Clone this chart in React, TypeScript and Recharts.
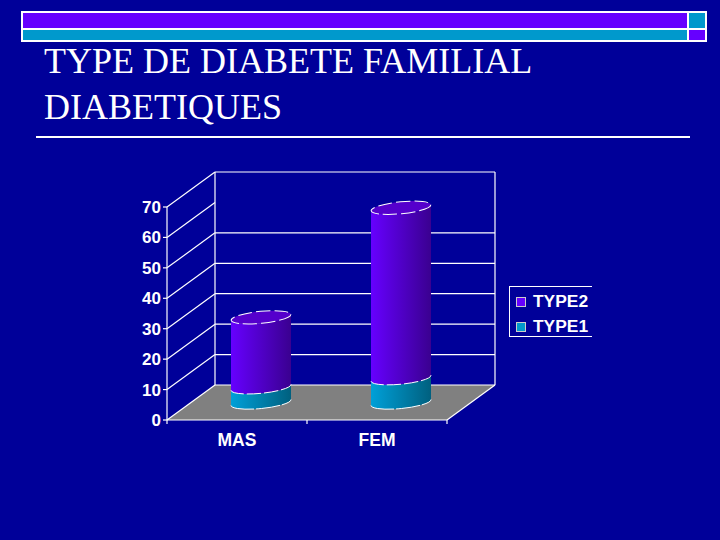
import React from 'react';
import { ComposedChart, Bar, XAxis, YAxis, CartesianGrid, Legend } from 'recharts';

const categories = ['MAS', 'FEM'];
const type1Values = [5, 8];
const type2Values = [23, 56];
const yTicks = [0, 10, 20, 30, 40, 50, 60, 70];
const hiddenBackLines = [60];

const chartData = categories.map((name, i) => ({
  name,
  TYPE1: type1Values[i],
  TYPE2: type2Values[i],
}));

const BG = '#000099';
const PURPLE = '#6600FF';
const TEAL = '#0099CC';
const LINE_W = 1.2;

// depth of the fake 3D box, the bars sit halfway in
const DEPTH_X = 48;
const DEPTH_Y = 35;
const RY = 6;
const TILT = 3;

const Cylinder = (props: any) => {
  const { x, y, width, height, gradient, top } = props;
  const cx = x + width / 2 + DEPTH_X / 2;
  const rx = width / 2;
  const yt = y - DEPTH_Y / 2;
  const yb = y + height - DEPTH_Y / 2;
  const lx = cx - rx;
  const rxx = cx + rx;
  const arc = `A ${rx} ${RY} -5.7 0`;
  const front = `M ${lx} ${yb + TILT} ${arc} 0 ${rxx} ${yb - TILT}`;
  return (
    <g>
      <path
        d={`${front} L ${rxx} ${yt - TILT} ${arc} 1 ${lx} ${yt + TILT} Z`}
        fill={`url(#${gradient})`}
      />
      <path d={front} fill="none" stroke="#fff" strokeWidth={1} strokeDasharray={top ? '14 3' : '24 2'} />
      {top && (
        <ellipse
          cx={cx}
          cy={yt}
          rx={rx}
          ry={RY}
          transform={`rotate(-5.7 ${cx} ${yt})`}
          fill="#5500CC"
          stroke="#fff"
          strokeWidth={1}
          strokeDasharray="14 4"
        />
      )}
    </g>
  );
};

// draws one value level: slanted line on the side wall, line on the back wall, floor at 0
const GridLevel = (props: any) => {
  const { x1, x2, y1, index, height } = props;
  const value = yTicks[index];
  const bx1 = x1 + DEPTH_X;
  const bx2 = x2 + DEPTH_X;
  const by = y1 - DEPTH_Y;
  const band = (x2 - x1) / categories.length;
  return (
    <g>
      {value === 0 && (
        <polygon points={`${x1},${y1} ${x2},${y1} ${bx2},${by} ${bx1},${by}`} fill="#808080" stroke="none" />
      )}
      {value === 70 && (
        <>
          <line x1={bx1} y1={by} x2={bx1} y2={by + height} stroke="#fff" strokeWidth={LINE_W} />
          <line x1={bx2} y1={by} x2={bx2} y2={by + height} stroke="#fff" strokeWidth={LINE_W} />
        </>
      )}
      <line x1={x1} y1={y1} x2={bx1} y2={by} stroke="#fff" strokeWidth={LINE_W} />
      {!hiddenBackLines.includes(value) && <line x1={bx1} y1={by} x2={bx2} y2={by} stroke="#fff" strokeWidth={LINE_W} />}
      {value === 0 && (
        <>
          <line x1={x2} y1={y1} x2={bx2} y2={by} stroke="#fff" strokeWidth={LINE_W} />
          {[0, 1, 2].map((i) => (
            <line key={i} x1={x1 + band * i} y1={y1} x2={x1 + band * i} y2={y1 + 4} stroke="#fff" strokeWidth={LINE_W} />
          ))}
        </>
      )}
    </g>
  );
};

const legendItems = [
  { label: 'TYPE2', color: PURPLE },
  { label: 'TYPE1', color: TEAL },
];

const LegendBox = () => (
  <div
    style={{
      width: 83,
      height: 51,
      boxSizing: 'border-box',
      borderLeft: '1px solid #fff',
      borderTop: '1px solid #fff',
      borderBottom: '1px solid #fff',
      paddingLeft: 6,
      paddingTop: 2,
    }}
  >
    {legendItems.map((item) => (
      <div key={item.label} style={{ display: 'flex', alignItems: 'center', height: 25 }}>
        <span style={{ width: 10, height: 10, background: item.color, border: '1px solid #ccc', boxSizing: 'border-box', marginRight: 7 }} />
        <span style={{ color: '#fff', fontWeight: 700, fontSize: 17.4, fontFamily: '"Liberation Sans", sans-serif' }}>{item.label}</span>
      </div>
    ))}
  </div>
);

const tickStyle = { fill: '#fff', fontSize: 17, fontWeight: 700, fontFamily: '"Liberation Sans", sans-serif' };
const xTickStyle = { ...tickStyle, fontSize: 17.5 };

export default function App() {
  return (
    <div style={{ position: 'absolute', left: 0, top: 0, width: 720, height: 540, background: BG, overflow: 'hidden' }}>
      {/* slide frame at the top */}
      <div style={{ position: 'absolute', left: 21, top: 11, width: 686, height: 31, background: '#fff' }}>
        <div style={{ position: 'absolute', left: 2, top: 2, width: 664, height: 15, background: PURPLE }} />
        <div style={{ position: 'absolute', left: 2, top: 19, width: 664, height: 10, background: TEAL }} />
        <div style={{ position: 'absolute', left: 668, top: 2, width: 16, height: 15, background: TEAL }} />
        <div style={{ position: 'absolute', left: 668, top: 19, width: 16, height: 10, background: PURPLE }} />
      </div>
      <div
        style={{
          position: 'absolute',
          left: 44,
          top: 38,
          color: '#fff',
          fontFamily: '"Liberation Serif", serif',
          fontSize: 36,
          lineHeight: '46px',
          whiteSpace: 'nowrap',
        }}
      >
        TYPE DE DIABETE FAMILIAL
        <br />
        DIABETIQUES
      </div>
      <div style={{ position: 'absolute', left: 36, top: 136, width: 654, height: 2, background: '#fff' }} />

      <ComposedChart
        width={720}
        height={540}
        data={chartData}
        margin={{ top: 207, right: 190, bottom: 90, left: 127 }}
      >
        <defs>
          <linearGradient id="purpleGrad" x1="0" y1="0" x2="1" y2="0">
            <stop offset="0%" stopColor="#6600FF" />
            <stop offset="100%" stopColor="#3A0090" />
          </linearGradient>
          <linearGradient id="tealGrad" x1="0" y1="0" x2="1" y2="0">
            <stop offset="0%" stopColor="#00A0D8" />
            <stop offset="100%" stopColor="#00607F" />
          </linearGradient>
        </defs>
        <CartesianGrid horizontal={(p: any) => <GridLevel key={p.index} {...p} />} vertical={false} stroke="#fff" />
        <XAxis
          dataKey="name"
          height={30}
          axisLine={{ stroke: '#fff', strokeWidth: LINE_W }}
          tickLine={false}
          tick={xTickStyle}
          tickMargin={8}
          interval={0}
        />
        <YAxis
          width={40}
          domain={[0, 70]}
          ticks={yTicks}
          axisLine={{ stroke: '#fff', strokeWidth: LINE_W }}
          tickLine={{ stroke: '#fff', strokeWidth: LINE_W }}
          tickSize={4}
          tick={tickStyle}
        />
        <Legend
          layout="vertical"
          align="right"
          verticalAlign="middle"
          content={<LegendBox />}
          wrapperStyle={{ left: 509, top: 286, right: 'auto', bottom: 'auto', width: 83 }}
        />
        <Bar dataKey="TYPE1" stackId="a" barSize={60} isAnimationActive={false} shape={(p: any) => <Cylinder {...p} gradient="tealGrad" />} />
        <Bar dataKey="TYPE2" stackId="a" barSize={60} isAnimationActive={false} shape={(p: any) => <Cylinder {...p} gradient="purpleGrad" top />} />
      </ComposedChart>
    </div>
  );
}
